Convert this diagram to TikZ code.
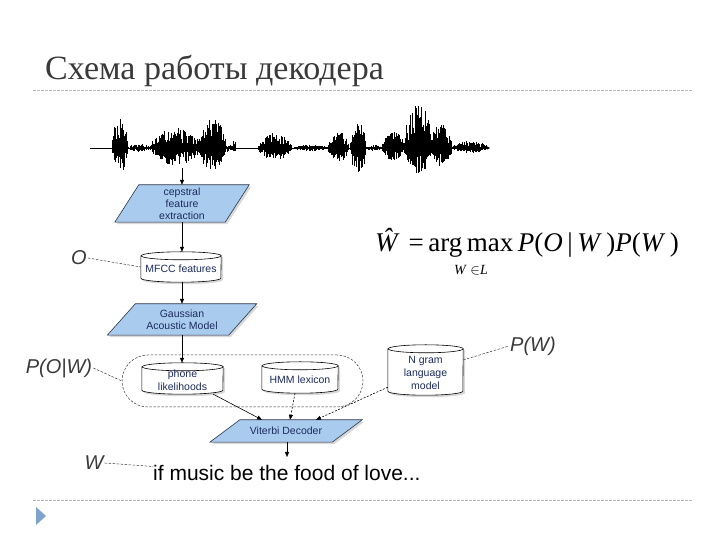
\documentclass[tikz,border=0pt]{standalone}
\usepackage{fontspec}
\setmainfont{Liberation Serif}
\setsansfont{Liberation Sans}
\usetikzlibrary{arrows.meta,shadows,calc}
\pgfdeclarelayer{back}
\pgfdeclarelayer{bg}
\pgfsetlayers{back,bg,main}
\definecolor{parafill}{HTML}{A9CCEE}
\definecolor{edgecol}{HTML}{2A3447}
\definecolor{boxtext}{HTML}{1C2B5E}
\definecolor{labcol}{HTML}{3A3A3A}
\definecolor{rulecol}{HTML}{B8B8B8}
\definecolor{bulletcol}{HTML}{7FA4CC}
\tikzset{
  shapebox/.style={rectangle, inner sep=0pt, align=center, text=boxtext,
    font=\sffamily\fontsize{10.5}{12}\selectfont},
  parastyle/.style={draw=edgecol, line width=0.6pt, fill=parafill,
    drop shadow={shadow xshift=2pt, shadow yshift=-2pt, opacity=0.3}},
  cylstyle/.style={draw=black, line width=0.6pt, fill=white,
    drop shadow={shadow xshift=2pt, shadow yshift=-2pt, opacity=0.3}},
  cylline/.style={draw=black, line width=0.6pt},
  flow/.style={draw=black, line width=0.6pt, -{Triangle[length=5pt,width=4pt]}},
  flowdash/.style={flow, dash pattern=on 2pt off 1.5pt},
  leader/.style={draw=labcol, line width=0.5pt, dash pattern=on 2.5pt off 1.5pt},
  lab/.style={text=labcol, font=\sffamily\itshape\fontsize{20}{22}\selectfont, inner sep=1pt},
  rulestyle/.style={draw=rulecol, line width=0.6pt, dash pattern=on 3pt off 1pt}
}
\newcommand{\mycyl}[2]{%
  \draw[cylstyle] ([yshift=-4pt]#1.north west) -- ([yshift=4pt]#1.south west)
    arc[start angle=180,end angle=360,x radius=#2,y radius=4]
    -- ([yshift=-4pt]#1.north east)
    arc[start angle=0,end angle=180,x radius=#2,y radius=4] -- cycle;
  \draw[cylline] ([yshift=-4pt]#1.north east)
    arc[start angle=0,end angle=-180,x radius=#2,y radius=4];}
\newcommand{\mypara}[2]{%
  \draw[parastyle] ([xshift=#2pt]#1.north west) -- ([xshift=#2pt]#1.north east)
    -- ([xshift=-#2pt]#1.south east) -- ([xshift=-#2pt]#1.south west) -- cycle;}
\newcommand{\lowered}[2]{\raisebox{-#1}[\height][\depth]{#2}}
\begin{document}
\begin{tikzpicture}[x=1pt,y=1pt]
\begin{pgfonlayer}{back}
\fill[white] (0,0) rectangle (720,540);
\end{pgfonlayer}
\useasboundingbox (0,0) rectangle (720,540);
% title and rules
\node[anchor=base west, inner sep=0pt, text=labcol,
  font=\fontsize{34}{38}\selectfont] (title) at (45,460) {Схема работы декодера};
\draw[rulestyle] (33,450) -- (692,450);
\draw[rulestyle] (33,40) -- (692,40);
\fill[bulletcol] (36,33) -- (46,24) -- (36,15) -- cycle;
% waveform
\pgfmathsetseed{11}
\coordinate (wstart) at (90,392);
\coordinate (wend) at (490,392);
\draw[line width=0.6pt, -{Triangle[length=3pt,width=3pt]}] (wstart) -- (wend);
\foreach \a/\b/\up/\dn in {112/128/34/26, 128/150/4/4, 150/200/20/17, 198/226/30/23,
   225/233/4/4, 232/236/9/6, 258/292/15/12, 292/328/3/3, 328/349/16/14,
   350/366/25/25, 366/382/3/3, 382/405/16/13, 404/432/46/26, 430/452/25/18, 452/488/7/5}{
  \pgfmathsetmacro\nx{\a+0.6}
  \foreach \x in {\a,\nx,...,\b}{
    \pgfmathsetmacro\env{sqrt(abs(sin(180*(\x-\a)/(\b-\a))))}
    \draw[line width=0.6pt] (\x,{392+\up*\env*(0.25+0.75*rnd)}) -- (\x,{392-\dn*\env*(0.25+0.75*rnd)});
  }
}
\coordinate (wtap) at (182,372);
% flow nodes
\node[shapebox, minimum width=110, minimum height=37] (cep) at (182,336.5)
  {cepstral\\feature\\extraction};
\node[shapebox, minimum width=80, minimum height=30] (mfcc) at (181,273)
  {\lowered{2pt}{MFCC features}};
\node[shapebox, minimum width=121, minimum height=31] (gauss) at (182,220.5)
  {Gaussian\\Acoustic Model};
\node[shapebox, minimum width=81, minimum height=31] (phone) at (182.5,161.5)
  {\lowered{2pt}{\shortstack{phone\\likelihoods}}};
\node[shapebox, minimum width=76, minimum height=31] (hmm) at (300,162.5)
  {\lowered{2pt}{HMM lexicon}};
\node[shapebox, minimum width=75, minimum height=50] (ngram) at (425.5,170)
  {\lowered{3pt}{\shortstack{N gram\\language\\model}}};
\node[shapebox, minimum width=122, minimum height=22] (vit) at (286,109) {Viterbi Decoder};
\node[anchor=base west, inner sep=0pt, font=\sffamily\fontsize{21}{24}\selectfont]
  (out) at (153,59) {if music be the food of love...};
\node[draw=labcol, line width=0.5pt, dash pattern=on 2.5pt off 1.5pt,
  rounded corners=26pt, minimum width=241, minimum height=52] (grp) at (242.5,159) {};
\begin{pgfonlayer}{bg}
  \mypara{cep}{12}
  \mypara{gauss}{14}
  \mypara{vit}{15}
  \mycyl{mfcc}{40}
  \mycyl{phone}{40.5}
  \mycyl{hmm}{38}
  \mycyl{ngram}{37.5}
\end{pgfonlayer}
% connectors
\draw[flow] (wtap) -- (cep.north);
\draw[flow] (cep.south) -- (mfcc.north -| cep.south);
\draw[flow] (mfcc.south -| cep.south) -- (gauss.north);
\draw[flow] (gauss.south) -- (phone.north -| gauss.south);
\draw[flow] ([xshift=-10pt]phone.south east) -- ([xshift=-24pt]vit.north);
\draw[flowdash] ([xshift=-5pt]hmm.south) -- ([xshift=4pt]vit.north);
\draw[flowdash] ([yshift=8pt]ngram.south west) -- ([xshift=30pt]vit.north);
\coordinate (vtip) at (287,83);
\draw[line width=0.2pt, -{Triangle[length=5pt,width=4pt]}] (vit.south -| vtip) -- (vtip);
% formula
\node[anchor=base west, inner sep=0pt, font=\fontsize{27}{30}\selectfont] (formula) at (375,288)
  {\textit{Ŵ}\,\,=\,arg\,max\,\textit{P}(\textit{O}\,|\,\textit{W}\,)\textit{P}(\textit{W}\,)};
\node[anchor=base, inner sep=0pt, font=\fontsize{14}{16}\selectfont] (sub) at (471,265)
  {\textit{W} $\in$\textit{L}};
% labels
\node[lab] (lo) at (79,282) {O};
\node[lab] (lpow) at (59,172) {P(O|W)};
\node[lab] (lpw) at (533,194) {P(W)};
\node[lab] (lw) at (94,77) {W};
\draw[leader] (lo.east) -- (mfcc.west);
\draw[leader] (lpow.east) -- (grp.west);
\draw[leader] ([yshift=10pt]ngram.east) -- (lpw.west);
\draw[leader] (lw.east) -- ([yshift=7pt]out.west);
\end{tikzpicture}
\end{document}
